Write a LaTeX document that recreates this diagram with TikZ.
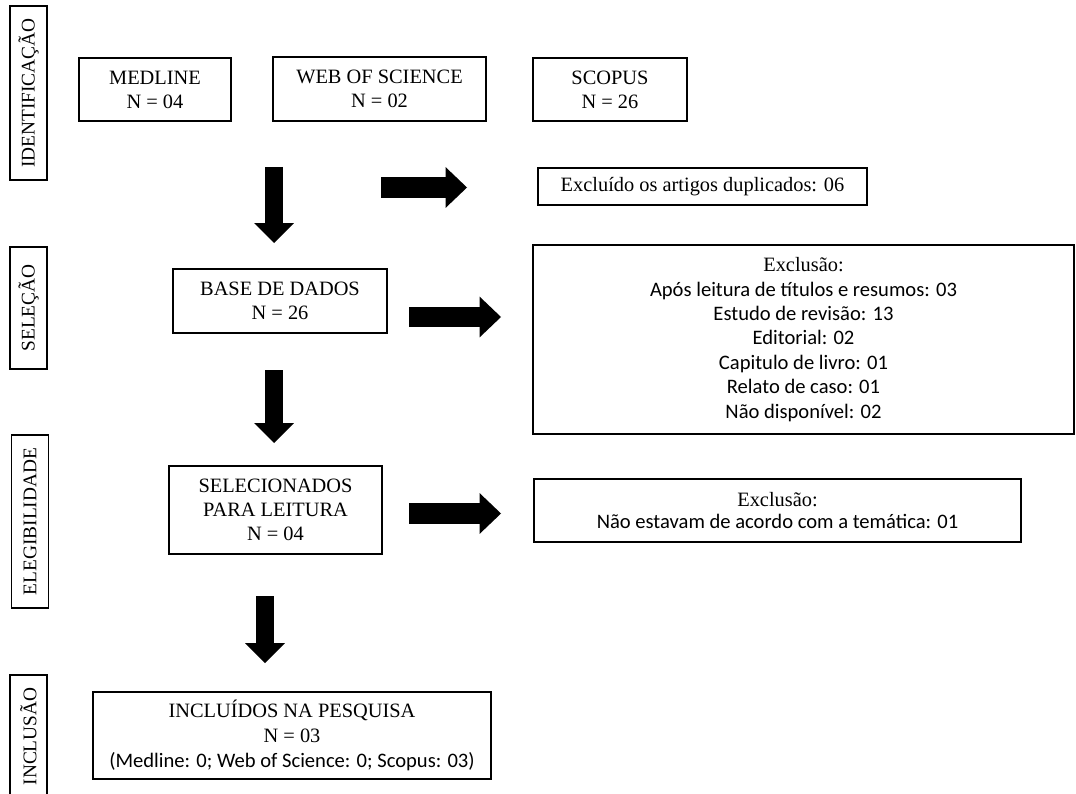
\documentclass[tikz,border=0pt]{standalone}
\usepackage{fontspec}
\setmainfont{Liberation Serif}
\newfontfamily\calibrifont[Scale=1.01]{Carlito}
\usepackage{tikz}
\usetikzlibrary{arrows.meta,positioning}

\begin{document}
\begin{tikzpicture}[
    x=0.02cm, y=-0.02cm,
    box/.style={rectangle, draw, line width=0.7pt, inner sep=0pt, align=center, font=\fontsize{11.6}{13.7}\selectfont},
    phase/.style={box, rotate=90, minimum height=0.74cm, font=\fontsize{11}{13}\selectfont},
    downarrow/.style={line width=0.36cm, -{Triangle[length=0.4cm, width=0.8cm, line width=0pt]}},
    rightarrow/.style={line width=0.42cm, -{Triangle[length=0.43cm, width=0.82cm, line width=0pt]}}
]
    \useasboundingbox (0,0) rectangle (1076,794);

    \node[phase, minimum width=3.48cm] (ident) at (28.5,93) {IDENTIFICAÇÃO};
    \node[phase, minimum width=2.44cm] (selec) at (28.5,308) {SELEÇÃO};
    \node[phase, minimum width=3.46cm] (eleg) at (30,521.5) {ELEGIBILIDADE};
    \node[phase, minimum width=2.46cm] (inclu) at (28.5,736.5) {INCLUSÃO};

    \node[box, minimum width=3.04cm, minimum height=1.26cm] (medline) at (155,89.5) {MEDLINE\\N = 04};
    \node[box, minimum width=4.26cm, minimum height=1.28cm] (wos) at (379.5,89) {WEB OF SCIENCE\\N = 02};
    \node[box, minimum width=3.08cm, minimum height=1.26cm] (scopus) at (610,89.5) {SCOPUS\\N = 26};
    \node[box, minimum width=6.58cm, minimum height=0.74cm] (dupl) at (702.5,186.5) {Excluído os artigos duplicados: 06};
    \node[box, minimum width=4.28cm, minimum height=1.28cm] (base) at (280,301) {BASE DE DADOS\\N = 26};
    \node[box, minimum width=10.82cm, minimum height=3.78cm, font=\fontsize{11.6}{13.9}\selectfont] (excl1) at (803.5,339.5)
        {Exclusão:\\{\calibrifont Após leitura de títulos e resumos: 03}\\{\calibrifont Estudo de revisão: 13}\\
         {\calibrifont Editorial: 02}\\{\calibrifont Capitulo de livro: 01}\\{\calibrifont Relato de caso: 01}\\
         {\calibrifont Não disponível: 02}};
    \node[box, minimum width=4.26cm, minimum height=1.76cm] (sel) at (275.5,510) {SELECIONADOS\\PARA LEITURA\\N = 04};
    \node[box, minimum width=9.74cm, minimum height=1.26cm, font=\fontsize{11.6}{12.6}\selectfont] (excl2) at (777.5,510.5)
        {Exclusão:\\{\calibrifont Não estavam de acordo com a temática: 01}};
    \node[box, minimum width=7.96cm, minimum height=1.74cm, font=\fontsize{11.6}{14}\selectfont] (incl) at (292,735.5)
        {INCLUÍDOS NA PESQUISA\\N = 03\\{\calibrifont (Medline: 0; Web of Science: 0; Scopus: 03)}};

    \coordinate (d1a) at (274,167);
    \coordinate (d1b) at (274,243);
    \coordinate (d2a) at (274,370);
    \coordinate (d2b) at (274,443);
    \coordinate (d3a) at (265,596);
    \coordinate (d3b) at (265,663);
    \coordinate (r1a) at (381,187.5);
    \coordinate (r1b) at (467,187.5);
    \coordinate (r2a) at (409,317);
    \coordinate (r2b) at (501,317);
    \coordinate (r3a) at (409,513.5);
    \coordinate (r3b) at (501,513.5);

    \draw[downarrow] (d1a) -- (d1b);
    \draw[downarrow] (d2a) -- (d2b);
    \draw[downarrow] (d3a) -- (d3b);
    \draw[rightarrow] (r1a) -- (r1b);
    \draw[rightarrow] (r2a) -- (r2b);
    \draw[rightarrow] (r3a) -- (r3b);
\end{tikzpicture}
\end{document}
